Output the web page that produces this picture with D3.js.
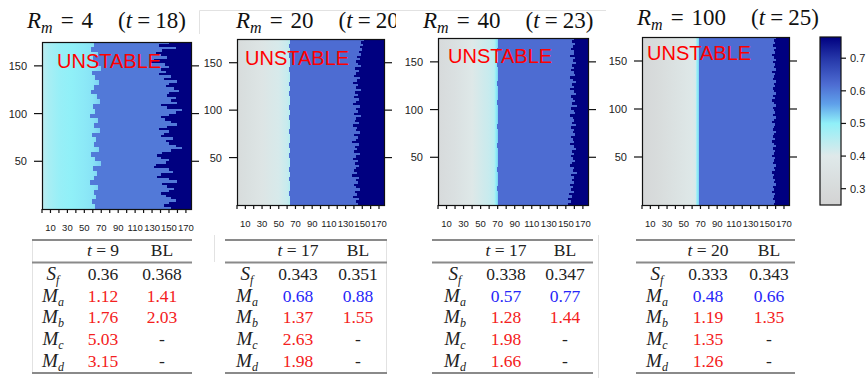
<!DOCTYPE html>
<html>
<head>
  <script src="https://d3js.org/d3.v7.min.js"></script>
  <style>
    body { margin: 0; background: #fff; }
    svg { display: block; font-family: 'Liberation Sans', Arial, sans-serif; }
    .serif { font-family: 'Liberation Serif', 'DejaVu Serif', serif; }
  </style>
</head>
<body>
  <svg width="868" height="378"></svg>
<script>
  // colour key (value -> colour)
  var colStops = [0.25, 0.40, 0.50, 0.56, 0.62, 0.70, 0.765];
  var colColors = ["#d3d3d3", "#dfe9ea", "#90f0f8", "#5fa0ea", "#4d6cd2", "#2536a8", "#000080"];
  var cbTicks = [0.3, 0.4, 0.5, 0.6, 0.7];

  var rmValues = [4, 20, 40, 100];
  var tValues = [18, 20, 23, 25];
  var yTicks = [50, 100, 150];
  var xTicks = [0, 10, 20, 30, 40, 50, 60, 70, 80, 90, 100, 110, 120, 130, 140, 150, 160, 170];
  var xLabels = [10, 30, 50, 70, 90, 110, 130, 150, 170];

  // left part of each map: value along the columns
  var profCols1 = [0, 8, 20, 35, 50, 60, 72];
  var profVals1 = [0.44, 0.47, 0.49, 0.50, 0.505, 0.51, 0.53];
  var profCols2 = [0, 10, 30, 50, 60, 64];
  var profVals2 = [0.31, 0.33, 0.37, 0.41, 0.43, 0.46];
  var profCols3 = [0, 20, 40, 60, 66, 68, 70];
  var profVals3 = [0.30, 0.34, 0.39, 0.43, 0.45, 0.50, 0.52];
  var profCols4 = [0, 20, 40, 60, 64, 66, 68];
  var profVals4 = [0.28, 0.31, 0.35, 0.39, 0.41, 0.50, 0.52];

  var blueVals = [0.605, 0.62, 0.62, 0.62];
  var navyVal = 0.765;

  // column where the blue part starts, bands of 5 rows from the top (row 175) down
  var blueEdge1 = [62, 58, 66, 60, 64, 70, 59, 63, 67, 61, 58, 65, 69, 60, 63, 57, 66, 62, 68, 59, 64, 61, 67, 58, 63, 70, 60, 65, 62, 57, 66, 61, 64, 59, 63];
  var blueEdge2 = [63, 62, 63, 62, 63, 63, 62, 64, 63, 62, 63, 62, 63, 64, 62, 63, 62, 63, 63, 62, 64, 63, 62, 63, 62, 63, 64, 62, 63, 62, 63, 63, 62, 63, 64];
  var blueEdge3 = [70, 70, 69, 70, 70, 69, 70, 70, 70, 69, 70, 70, 70, 69, 70, 70, 70, 70, 69, 70, 70, 70, 69, 70, 70, 70, 70, 69, 70, 70, 70, 69, 70, 70, 70];
  var blueEdge4 = [68, 68, 68, 68, 68, 68, 68, 68, 68, 68, 68, 68, 68, 68, 68, 68, 68, 68, 68, 68, 68, 68, 68, 68, 68, 68, 68, 68, 68, 68, 68, 68, 68, 68, 68];

  // column where the navy part starts, bands of 2.5 rows from the top down
  var navyEdge1 = [150, 138, 158, 142, 135, 140, 148, 132, 128, 145,
                   150, 141, 146, 138, 152, 144, 160, 150, 147, 156,
                   162, 150, 148, 158, 152, 160, 141, 148, 165, 158,
                   150, 140, 145, 152, 160, 148, 138, 150, 144, 140,
                   155, 146, 150, 158, 165, 152, 142, 136, 140, 150,
                   146, 135, 132, 150, 155, 140, 136, 150, 160, 142,
                   148, 156, 150, 140, 146, 152, 158, 150, 144, 152];
  var navyEdge2 = [152, 149, 151, 147, 150, 146, 148, 144, 147, 142,
                   145, 148, 141, 146, 143, 140, 147, 144, 139, 145,
                   142, 148, 141, 145, 140, 146, 143, 139, 147, 142,
                   145, 140, 148, 143, 141, 146, 139, 144, 142, 147,
                   140, 145, 143, 138, 146, 141, 144, 140, 147, 142,
                   139, 145, 141, 146, 143, 140, 144, 138, 146, 142,
                   145, 140, 143, 147, 141, 144, 139, 146, 142, 145];
  var navyEdge3 = [160, 157, 161, 158, 156, 160, 159, 155, 161, 158,
                   162, 157, 160, 156, 159, 161, 155, 158, 162, 157,
                   160, 155, 159, 162, 156, 158, 161, 157, 163, 156,
                   159, 161, 155, 158, 160, 157, 162, 156, 159, 158,
                   161, 156, 158, 160, 155, 159, 162, 157, 160, 156,
                   158, 161, 157, 155, 160, 158, 163, 156, 159, 157,
                   160, 155, 158, 156, 159, 154, 157, 153, 156, 152];
  var navyEdge4 = [160, 158, 159, 157, 160, 158, 159, 156, 158, 160,
                   157, 159, 158, 160, 156, 159, 158, 157, 160, 158,
                   159, 157, 158, 160, 157, 159, 156, 158, 160, 157,
                   158, 159, 157, 160, 158, 156, 159, 158, 157, 160,
                   158, 157, 159, 156, 158, 160, 157, 159, 158, 156,
                   159, 158, 157, 160, 158, 159, 156, 158, 157, 159,
                   158, 160, 157, 158, 156, 159, 158, 157, 159, 158];

  // tables
  var tHead = [9, 17, 17, 20];
  var rowSym = ["S", "M", "M", "M", "M"];
  var rowSub = ["f", "a", "b", "c", "d"];
  var tblT = [["0.36", "1.12", "1.76", "5.03", "3.15"],
              ["0.343", "0.68", "1.37", "2.63", "1.98"],
              ["0.338", "0.57", "1.28", "1.98", "1.66"],
              ["0.333", "0.48", "1.19", "1.35", "1.26"]];
  var tblBL = [["0.368", "1.41", "2.03", "-", "-"],
               ["0.351", "0.88", "1.55", "-", "-"],
               ["0.347", "0.77", "1.44", "-", "-"],
               ["0.343", "0.66", "1.35", "-", "-"]];
  var tblCol = [["k", "r", "r", "r", "r"],
                ["k", "b", "r", "r", "r"],
                ["k", "b", "r", "r", "r"],
                ["k", "b", "r", "r", "r"]];

  var profCols = [profCols1, profCols2, profCols3, profCols4];
  var profVals = [profVals1, profVals2, profVals3, profVals4];
  var blueEdges = [blueEdge1, blueEdge2, blueEdge3, blueEdge4];
  var navyEdges = [navyEdge1, navyEdge2, navyEdge3, navyEdge4];

  var svg = d3.select("svg");
  var defs = svg.append("defs");
  var color = d3.scaleLinear().domain(colStops).range(colColors).clamp(true);
  var txtColor = { k: "#222", r: "#f42020", b: "#2626f8" };

  // layout of the pasted pieces
  var boxes = [{ x: 42, y: 42, w: 149, h: 167 }, { x: 237, y: 39, w: 147, h: 166 },
               { x: 438, y: 38, w: 150, h: 167 }, { x: 642, y: 37, w: 147, h: 168 }];
  var titlePos = [[27, 28], [236, 28], [423, 28], [637, 25]];
  var unstPos = [[57, 68], [245, 65], [448, 63], [647, 60]];
  var tbl = [{ x0: 32, x1: 192, lab: 53, c1: 103, c2: 162 },
             { x0: 225, x1: 387, lab: 247, c1: 298, c2: 358 },
             { x0: 432, x1: 593, lab: 455, c1: 506, c2: 565 },
             { x0: 636, x1: 795, lab: 657, c1: 708, c2: 769 }];

  // faint borders of the pasted screenshots
  var faint = svg.append("g").attr("stroke", "#e2e2e2").attr("stroke-width", 1);
  faint.append("line").attr("x1", 199.5).attr("x2", 606).attr("y1", 10.5).attr("y2", 10.5);
  faint.append("line").attr("x1", 199.5).attr("x2", 199.5).attr("y1", 10.5).attr("y2", 34);
  faint.append("line").attr("x1", 32.5).attr("x2", 32.5).attr("y1", 240).attr("y2", 374);
  faint.append("line").attr("x1", 214.5).attr("x2", 214.5).attr("y1", 235).attr("y2", 262);
  faint.append("line").attr("x1", 386.5).attr("x2", 386.5).attr("y1", 240).attr("y2", 374);
  faint.append("line").attr("x1", 598.5).attr("x2", 598.5).attr("y1", 235).attr("y2", 378);

  boxes.forEach(function (b, p) {
    var x = d3.scaleLinear().domain([0, 176]).range([b.x, b.x + b.w]);
    var y = d3.scaleLinear().domain([0, 175]).range([b.y + b.h, b.y]);
    var g = svg.append("g");

    // gradient for the left part
    var cols = profCols[p], vals = profVals[p];
    var x0 = x(cols[0]), x1 = x(cols[cols.length - 1]);
    var grad = defs.append("linearGradient").attr("id", "grad" + p)
      .attr("gradientUnits", "userSpaceOnUse")
      .attr("x1", x0).attr("x2", x1).attr("y1", 0).attr("y2", 0);
    cols.forEach(function (c, i) {
      grad.append("stop").attr("offset", (x(c) - x0) / (x1 - x0)).attr("stop-color", color(vals[i]));
    });

    var hm = g.append("g").attr("shape-rendering", "crispEdges");
    hm.append("rect").attr("x", x(0)).attr("y", y(175)).attr("width", x(176) - x(0)).attr("height", y(0) - y(175))
      .attr("fill", color(blueVals[p]));
    var bh = 175 / blueEdges[p].length;
    blueEdges[p].forEach(function (be, i) {
      var yt = y(175 - bh * i), yb = y(175 - bh * (i + 1));
      hm.append("rect").attr("x", x(0)).attr("y", yt).attr("width", x(be) - x(0)).attr("height", yb - yt)
        .attr("fill", "url(#grad" + p + ")");
    });
    var nh = 175 / navyEdges[p].length;
    navyEdges[p].forEach(function (ne, i) {
      var yt = y(175 - nh * i), yb = y(175 - nh * (i + 1));
      hm.append("rect").attr("x", x(ne)).attr("y", yt).attr("width", x(176) - x(ne)).attr("height", yb - yt)
        .attr("fill", color(navyVal));
    });

    g.append("rect").attr("x", b.x + 0.5).attr("y", b.y + 0.5).attr("width", b.w).attr("height", b.h)
      .attr("fill", "none").attr("stroke", "#111").attr("stroke-width", 1.2);

    // axes
    var ax = g.append("g").attr("stroke", "#111").attr("stroke-width", 1.2);
    yTicks.forEach(function (t) {
      ax.append("line").attr("x1", b.x - 8).attr("x2", b.x).attr("y1", y(t)).attr("y2", y(t));
      ax.append("line").attr("x1", b.x + b.w).attr("x2", b.x + b.w + 8).attr("y1", y(t)).attr("y2", y(t));
    });
    xTicks.forEach(function (t) {
      ax.append("line").attr("x1", x(t)).attr("x2", x(t)).attr("y1", b.y + b.h).attr("y2", b.y + b.h + 4);
    });
    g.selectAll(".yl").data(yTicks).enter().append("text")
      .attr("x", b.x - 15).attr("y", function (d) { return y(d) + 4; })
      .attr("text-anchor", "end").attr("font-size", 11).attr("fill", "#222")
      .text(function (d) { return d; });
    g.selectAll(".xl").data(xLabels).enter().append("text")
      .attr("x", function (d) { return x(d); }).attr("y", b.y + b.h + 22)
      .attr("text-anchor", "middle").attr("font-size", 9.5).attr("fill", "#222")
      .text(function (d) { return d; });

    g.append("text").attr("x", unstPos[p][0]).attr("y", unstPos[p][1])
      .attr("font-size", 20).attr("fill", "#ff0000").text("UNSTABLE");

    // title (the second one is covered by the next picture)
    var tt = svg.append("text").attr("class", "serif").attr("x", titlePos[p][0]).attr("y", titlePos[p][1])
      .attr("font-size", 23).attr("fill", "#111");
    if (p === 1) {
      defs.append("clipPath").attr("id", "clipT").append("rect").attr("x", 200).attr("y", 0).attr("width", 196).attr("height", 40);
      tt.attr("clip-path", "url(#clipT)");
    }
    tt.append("tspan").attr("font-style", "italic").text("R");
    tt.append("tspan").attr("font-style", "italic").attr("font-size", 16).attr("dy", 5).text("m");
    tt.append("tspan").attr("dy", -5).attr("dx", 8).text("=");
    tt.append("tspan").attr("dx", 8).text(rmValues[p]);
    tt.append("tspan").attr("dx", 25).text("(");
    tt.append("tspan").attr("font-style", "italic").text("t");
    tt.append("tspan").attr("dx", 5).text("=");
    tt.append("tspan").attr("dx", 5).text(tValues[p] + ")");

    // table
    var tb = tbl[p];
    var tg = svg.append("g").attr("class", "serif").attr("font-size", 17.5);
    [240, 262.5, 373].forEach(function (ry) {
      tg.append("line").attr("x1", tb.x0).attr("x2", tb.x1).attr("y1", ry).attr("y2", ry)
        .attr("stroke", "#8a8a8a").attr("stroke-width", 2);
    });
    var h1 = tg.append("text").attr("x", tb.c1).attr("y", 256).attr("text-anchor", "middle").attr("fill", "#222");
    h1.append("tspan").attr("font-style", "italic").text("t");
    h1.append("tspan").text(" = " + tHead[p]);
    tg.append("text").attr("x", tb.c2).attr("y", 256).attr("text-anchor", "middle").attr("fill", "#222").text("BL");
    var rowY = [280, 301.5, 323, 345, 367];
    rowY.forEach(function (ry, r) {
      var lt = tg.append("text").attr("x", tb.lab).attr("y", ry).attr("text-anchor", "middle").attr("fill", "#222");
      lt.append("tspan").attr("font-style", "italic").attr("font-size", 19).text(rowSym[r]);
      lt.append("tspan").attr("font-style", "italic").attr("font-size", 12).attr("dy", 4).text(rowSub[r]);
      tg.append("text").attr("x", tb.c1).attr("y", ry).attr("text-anchor", "middle")
        .attr("fill", txtColor[tblCol[p][r]]).text(tblT[p][r]);
      tg.append("text").attr("x", tb.c2).attr("y", ry).attr("text-anchor", "middle")
        .attr("fill", tblBL[p][r] === "-" ? "#222" : txtColor[tblCol[p][r]]).text(tblBL[p][r]);
    });
  });

  // colour bar
  var cb = { x: 820, y: 37, w: 21, h: 168 };
  var cy = d3.scaleLinear().domain([0.25, 0.765]).range([cb.y + cb.h, cb.y]);
  var cgrad = defs.append("linearGradient").attr("id", "cbgrad")
    .attr("gradientUnits", "userSpaceOnUse").attr("x1", 0).attr("x2", 0)
    .attr("y1", cb.y + cb.h).attr("y2", cb.y);
  colStops.forEach(function (s, i) {
    cgrad.append("stop").attr("offset", (s - 0.25) / (0.765 - 0.25)).attr("stop-color", colColors[i]);
  });
  svg.append("rect").attr("x", cb.x).attr("y", cb.y).attr("width", cb.w).attr("height", cb.h)
    .attr("fill", "url(#cbgrad)").attr("stroke", "#111").attr("stroke-width", 1.2);
  cbTicks.forEach(function (t) {
    svg.append("line").attr("x1", cb.x + cb.w).attr("x2", cb.x + cb.w + 5).attr("y1", cy(t)).attr("y2", cy(t))
      .attr("stroke", "#111").attr("stroke-width", 1.2);
    svg.append("text").attr("x", cb.x + cb.w + 9).attr("y", cy(t) + 4).attr("font-size", 11).attr("fill", "#222").text(t);
  });
</script>
</body>
</html>
